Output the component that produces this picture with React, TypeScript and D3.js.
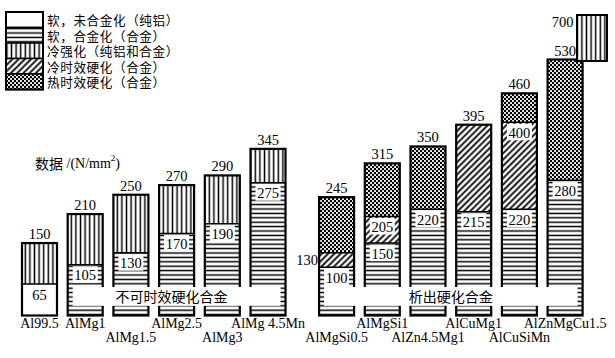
import React from "react";
import * as d3 from "d3";

// ---------- data ----------
const categories = [
  "Al99.5", "AlMg1", "AlMg1.5", "AlMg2.5", "AlMg3", "AlMg 4.5Mn",
  "AlMgSi0.5", "AlMgSi1", "AlZn4.5Mg1", "AlCuMg1", "AlCuSiMn", "AlZnMgCu1.5",
];
const groupOf = [0, 0, 0, 0, 0, 0, 1, 1, 1, 1, 1, 1];
const labelRow = [0, 0, 1, 0, 1, 0, 1, 0, 1, 0, 1, 0];

// cumulative top value of each stacked state (N/mm²)
const softPure = [65, null, null, null, null, null, null, null, null, null, null, null];
const softAlloy = [null, 105, 130, 170, 190, 275, 100, 150, 220, 215, 220, 280];
const coldAged = [null, null, null, null, null, null, 130, 205, null, 395, 400, null];
const hotAged = [null, null, null, null, null, null, 245, 315, 350, null, 460, 530];
const coldWorked = [150, 210, 250, 270, 290, 345, null, null, null, null, null, 700];

const seriesNames = [
  "软，未合金化（纯铝）",
  "软，合金化（合金）",
  "冷强化（纯铝和合金）",
  "冷时效硬化（合金）",
  "热时效硬化（合金）",
];
const groupNames = ["不可时效硬化合金", "析出硬化合金"];
const axisLabelCjk = "数据";
const axisLabelUnit = " /(N/mm";
const brokenAbove = 530;
const bandValues = [20, 59];

// stacking order bottom -> top
const stackSeries = [
  { values: softPure, pattern: "pWhite" },
  { values: softAlloy, pattern: "pH" },
  { values: coldAged, pattern: "pDiag" },
  { values: hotAged, pattern: "pCross" },
  { values: coldWorked, pattern: "pV" },
];
const legendPatterns = ["pWhite", "pH", "pV", "pDiag", "pCross"];

const SERIF = "'Liberation Serif', 'Times New Roman', serif";
const CJK = "'Noto Sans CJK SC', 'Noto Sans', sans-serif";

export default function App() {
  const W = 615, H = 358;
  const bw = 35;
  const x = d3.scaleLinear().domain([0, 11.5]).range([22, 547.6]);
  const y = d3.scaleLinear().domain([0, brokenAbove]).range([315.5, 59.5]);
  const slot = (i: number) => i + groupOf[i] * 0.5;

  const bars = categories.map((c, i) => {
    const x0 = x(slot(i));
    let base = 0;
    const segs: { from: number; to: number; pattern: string }[] = [];
    let inset: { from: number; to: number; pattern: string } | null = null;
    stackSeries.forEach((s) => {
      const v = s.values[i];
      if (v == null) return;
      if (v > brokenAbove) inset = { from: base, to: v, pattern: s.pattern };
      else segs.push({ from: base, to: v, pattern: s.pattern });
      base = v;
    });
    return { c, i, x0, x1: x0 + bw, segs, inset: inset as any, top: segs[segs.length - 1].to };
  });

  const insetMax = d3.max(bars, (b) => (b.inset ? b.inset.to : 0)) as number;
  const yInset = d3.scaleLinear().domain([brokenAbove, insetMax]).range([y(brokenAbove) + 1.5, 15]);

  const bands = [0, 1].map((g) => {
    const gb = bars.filter((b) => groupOf[b.i] === g && softPure[b.i] == null);
    const bx0 = (d3.min(gb, (b) => b.x0) as number) + 5;
    const bx1 = (d3.max(gb, (b) => b.x1) as number) - 5;
    return { g, x0: bx0, x1: bx1, y0: y(bandValues[1]), y1: y(bandValues[0]) };
  });

  const legX = 6, legW = 37, legY = 12, legH = 15.5;

  return (
    <svg width={W} height={H} style={{ position: "absolute", left: 0, top: 0, background: "#fff" }}>
      <defs>
        <pattern id="pWhite" patternUnits="userSpaceOnUse" width={4} height={4}>
          <rect width={4} height={4} fill="#fff" />
        </pattern>
        <pattern id="pH" patternUnits="userSpaceOnUse" width={8} height={4.4}>
          <rect width={8} height={4.4} fill="#fff" />
          <line x1={0} x2={8} y1={2.2} y2={2.2} stroke="#000" strokeWidth={1.5} />
        </pattern>
        <pattern id="pV" patternUnits="userSpaceOnUse" width={4.6} height={8}>
          <rect width={4.6} height={8} fill="#fff" />
          <line x1={2.3} x2={2.3} y1={0} y2={8} stroke="#000" strokeWidth={1.5} />
        </pattern>
        <pattern id="pDiag" patternUnits="userSpaceOnUse" width={4.4} height={8} patternTransform="rotate(45)">
          <rect width={4.4} height={8} fill="#fff" />
          <line x1={2.2} x2={2.2} y1={0} y2={8} stroke="#000" strokeWidth={1.8} />
        </pattern>
        <pattern id="pCross" patternUnits="userSpaceOnUse" width={4} height={4}>
          <rect width={4} height={4} fill="#000" />
          <circle cx={1} cy={1} r={1.05} fill="#fff" />
          <circle cx={3} cy={3} r={1.05} fill="#fff" />
        </pattern>
      </defs>

      {/* legend */}
      <g>
        {seriesNames.map((n, k) => (
          <g key={n}>
            <rect x={legX} y={legY + k * legH} width={legW} height={legH}
              fill={`url(#${legendPatterns[k]})`} stroke="#000" strokeWidth={1.5} />
            <text x={47} y={legY + k * legH + legH / 2} dominantBaseline="central"
              fontFamily={CJK} fontSize={12.6} letterSpacing={0.6} fill="#000">{n}</text>
          </g>
        ))}
        <rect x={legX} y={legY} width={legW} height={legH * 5} fill="none" stroke="#000" strokeWidth={2} />
      </g>

      {/* axis unit label */}
      <text x={35} y={163} dominantBaseline="central" fontSize={14} fill="#000">
        <tspan fontFamily={CJK}>{axisLabelCjk}</tspan>
        <tspan fontFamily={SERIF}>{axisLabelUnit}</tspan>
        <tspan fontFamily={SERIF} fontSize={9} dy={-5}>2</tspan>
        <tspan fontFamily={SERIF} dy={5}>)</tspan>
      </text>

      {/* bars */}
      {bars.map((b) => (
        <g key={b.c}>
          {b.segs.map((s, k) => (
            <rect key={k} x={b.x0} y={y(s.to)} width={bw} height={y(s.from) - y(s.to)}
              fill={`url(#${s.pattern})`} />
          ))}
          {b.segs.slice(0, -1).map((s, k) => (
            <line key={"l" + k} x1={b.x0} x2={b.x1} y1={y(s.to)} y2={y(s.to)} stroke="#000" strokeWidth={1.5} />
          ))}
          <rect x={b.x0} y={y(b.top)} width={bw} height={y(0) - y(b.top)} fill="none" stroke="#000" strokeWidth={2.2} />
          {b.inset && (
            <g>
              <rect x={b.x0 + 29.4} y={yInset(b.inset.to)} width={30}
                height={yInset(b.inset.from) - yInset(b.inset.to)}
                fill={`url(#${b.inset.pattern})`} stroke="#000" strokeWidth={2} />
              <text x={b.x0 + 26} y={yInset(b.inset.to) + 7} textAnchor="end" dominantBaseline="central"
                fontFamily={SERIF} fontSize={14.5} fill="#000">{b.inset.to}</text>
            </g>
          )}
        </g>
      ))}

      {/* group bands */}
      {bands.map((bd) => (
        <g key={bd.g}>
          <rect x={bd.x0} y={bd.y0} width={bd.x1 - bd.x0} height={bd.y1 - bd.y0} fill="#fff" />
          <text x={(bd.x0 + bd.x1) / 2 - (bd.g === 0 ? 5 : 0)} y={(bd.y0 + bd.y1) / 2} textAnchor="middle" dominantBaseline="central"
            fontFamily={CJK} fontSize={14} fill="#000">{groupNames[bd.g]}</text>
        </g>
      ))}

      {/* value labels */}
      {bars.map((b) => (
        <g key={"v" + b.c}>
          {b.segs.slice(0, -1).map((s, k) => {
            const hgt = y(s.from) - y(s.to);
            const yt = y(s.to);
            if (hgt < 20) {
              return (
                <text key={k} x={b.x0 - 1} y={(y(s.from) + yt) / 2} textAnchor="end" dominantBaseline="central"
                  fontFamily={SERIF} fontSize={14.5} fill="#000">{s.to}</text>
              );
            }
            return (
              <g key={k}>
                <rect x={b.x0 + 5} y={yt + 1.5} width={bw - 10} height={16.5} fill="#fff" />
                <text x={(b.x0 + b.x1) / 2} y={yt + 10.5} textAnchor="middle" dominantBaseline="central"
                  fontFamily={SERIF} fontSize={14.5} fill="#000">{s.to}</text>
              </g>
            );
          })}
          <text x={(b.x0 + b.x1) / 2} y={y(b.top) - 4} textAnchor="middle"
            fontFamily={SERIF} fontSize={14.5} fill="#000">{b.top}</text>
        </g>
      ))}

      {/* category labels */}
      {bars.map((b) => (
        <text key={"c" + b.c} x={(b.x0 + b.x1) / 2} y={labelRow[b.i] === 0 ? 328 : 341.5} textAnchor="middle"
          fontFamily={SERIF} fontSize={14} fill="#000">{b.c}</text>
      ))}
    </svg>
  );
}
